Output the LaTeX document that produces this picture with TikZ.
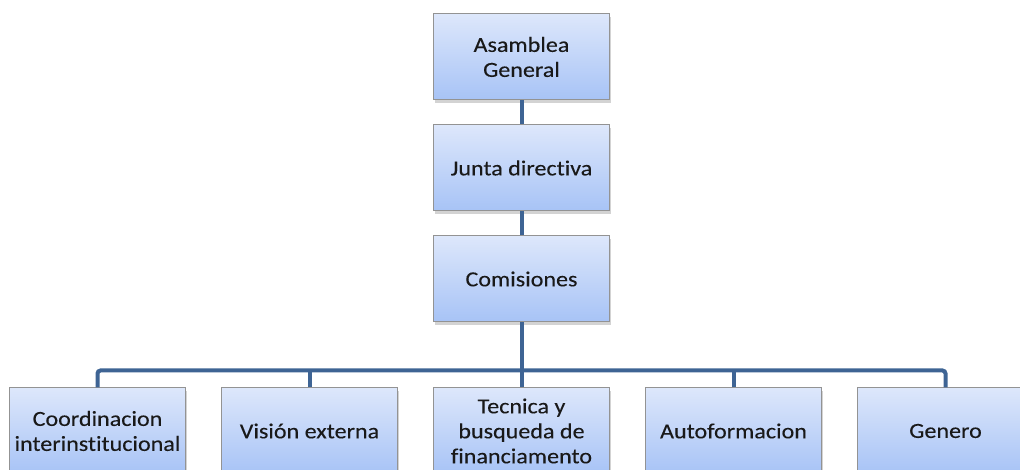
\documentclass[tikz,border=0pt]{standalone}
\usepackage{fontspec}
\setmainfont{Carlito}[FakeStretch=1.12, Ligatures=NoCommon, FakeBold=0.15]
\usetikzlibrary{positioning,shadows}
\definecolor{boxtop}{HTML}{DDE7FB}
\definecolor{boxbot}{HTML}{A7C3F6}
\definecolor{linkblue}{HTML}{3E6494}
\begin{document}
\begin{tikzpicture}[x=1pt, y=1pt, node distance=24pt,
    box/.style={draw=gray!85, line width=1pt, top color=boxtop, bottom color=boxbot,
        minimum width=176pt, minimum height=86pt, align=center, text=black!90,
        font=\fontsize{21.5}{25}\selectfont,
        drop shadow={shadow xshift=1pt, shadow yshift=-3pt, opacity=0.35}},
    link/.style={draw=linkblue, line width=4pt, rounded corners=3pt}]
    \useasboundingbox (0,0) rectangle (1020,470);
    \node[box] (asamblea) at (521.5,413) {Asamblea\\General};
    \node[box] (junta) [below=of asamblea] {Junta directiva};
    \node[box] (comisiones) [below=of junta] {Comisiones};
    \node[box] (tecnica) [below=65pt of comisiones] {Tecnica y\\busqueda de\\financiamento};
    \node[box] (vision) [left=35pt of tecnica] {Visión externa};
    \node[box] (coord) [left=35pt of vision] {Coordinacion\\interinstitucional};
    \node[box] (autoform) [right=35pt of tecnica] {Autoformacion};
    \node[box] (genero) [right=35pt of autoform] {Genero};
    \draw[link] (asamblea) -- (junta);
    \draw[link] (junta) -- (comisiones);
    \draw[link] (comisiones) -- (tecnica);
    \draw[link] (coord.north) -- ++(0,17) -| (genero.north);
    \draw[link] (vision.north) -- ++(0,17);
    \draw[link] (autoform.north) -- ++(0,17);
\end{tikzpicture}
\end{document}
